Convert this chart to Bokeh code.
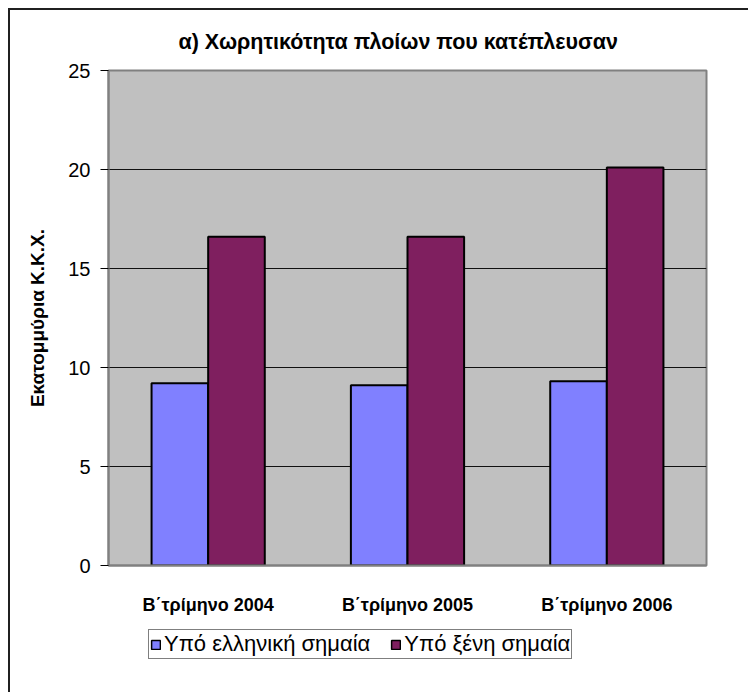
from bokeh.plotting import figure
from bokeh.models import ColumnDataSource, FixedTicker, Legend, LegendItem, Title, Range1d
from bokeh.layouts import column
from bokeh.transform import dodge
from bokeh.embed import file_html
from bokeh.resources import INLINE

categories = ["Β΄τρίμηνο 2004", "Β΄τρίμηνο 2005", "Β΄τρίμηνο 2006"]
greek_flag = [9.2, 9.1, 9.3]
foreign_flag = [16.6, 16.6, 20.1]
series_names = ["Υπό ελληνική σημαία", "Υπό ξένη σημαία"]
series_colors = ["#8080FF", "#7F1F5F"]
y_ticks = [0, 5, 10, 15, 20, 25]
title_text = "α) Χωρητικότητα πλοίων που κατέπλευσαν"
y_label = "Εκατομμύρια Κ.Κ.Χ."

FONT = "Liberation Sans"

src = ColumnDataSource(dict(cat=categories, g=greek_flag, f=foreign_flag))

p = figure(x_range=categories, y_range=(0, 25), width=738, height=610,
           output_backend="svg", toolbar_location=None,
           min_border_left=98, min_border_right=42, min_border_top=60, min_border_bottom=55,
           background_fill_color="#C0C0C0", border_fill_color="white",
           outline_line_color="#808080", outline_line_width=2)

p.title = Title(text=title_text, align="left", text_font=FONT, text_font_size="21.5px",
                text_font_style="bold", text_color="black", standoff=34, offset=70)


def bars(fig, col, shift, color, **kw):
    return fig.vbar(x=dodge("cat", shift, range=fig.x_range), top=col, source=src,
                    fill_color=color, line_color="black", **kw)


bars(p, "g", -0.142, series_colors[0], width=0.284, line_width=2)
bars(p, "f", 0.142, series_colors[1], width=0.284, line_width=2)

p.xgrid.grid_line_color = None
p.ygrid.grid_line_color = "#111111"
p.ygrid.grid_line_width = 1
p.ygrid.ticker = FixedTicker(ticks=y_ticks)

p.yaxis.ticker = FixedTicker(ticks=y_ticks)
p.yaxis.axis_line_color = "#808080"
p.yaxis.axis_line_width = 2
p.yaxis.major_tick_line_color = "black"
p.yaxis.major_tick_out = 8
p.yaxis.major_tick_in = 0
p.yaxis.minor_tick_line_color = None
p.yaxis.major_label_standoff = 10
p.yaxis.major_label_text_font = FONT
p.yaxis.major_label_text_font_size = "20px"
p.yaxis.major_label_text_color = "black"
p.yaxis.axis_label = y_label
p.yaxis.axis_label_text_font = FONT
p.yaxis.axis_label_text_font_size = "19px"
p.yaxis.axis_label_text_font_style = "bold"
p.yaxis.axis_label_text_color = "black"
p.yaxis.axis_label_standoff = 17

p.xaxis.axis_line_color = "#808080"
p.xaxis.axis_line_width = 2
p.xaxis.major_tick_line_color = None
p.xaxis.minor_tick_line_color = None
p.xaxis.major_label_standoff = 23
p.xaxis.major_label_text_font = FONT
p.xaxis.major_label_text_font_size = "18px"
p.xaxis.major_label_text_font_style = "bold"
p.xaxis.major_label_text_color = "black"

# legend strip below the chart: zero-size bars far outside its range only supply the swatches
lg = figure(width=738, height=72, x_range=p.x_range, y_range=Range1d(1000, 1001),
            output_backend="svg", toolbar_location=None,
            x_axis_location=None, y_axis_location=None, min_border=0,
            outline_line_color=None, background_fill_color="white", border_fill_color="white")
lg.grid.grid_line_color = None
lg_r1 = bars(lg, "g", -0.142, series_colors[0], bottom="g", width=0, line_width=1.5)
lg_r2 = bars(lg, "f", 0.142, series_colors[1], bottom="f", width=0, line_width=1.5)

legend = Legend(items=[LegendItem(label=series_names[0], renderers=[lg_r1]),
                       LegendItem(label=series_names[1], renderers=[lg_r2])],
                orientation="horizontal", location=(40, 33),
                glyph_width=11, glyph_height=11, label_standoff=3, spacing=20,
                padding=1, margin=0, label_height=18,
                label_text_font=FONT, label_text_font_size="22px", label_text_color="black",
                border_line_color="black", border_line_width=1,
                background_fill_color="white", background_fill_alpha=1)
lg.add_layout(legend, "center")

layout = column(p, lg, spacing=0,
                styles={"margin-top": "8px", "margin-left": "8px",
                        "border-top": "2px solid #202020", "border-left": "2px solid #202020"})

open("out.html", "w").write(file_html(layout, INLINE))
